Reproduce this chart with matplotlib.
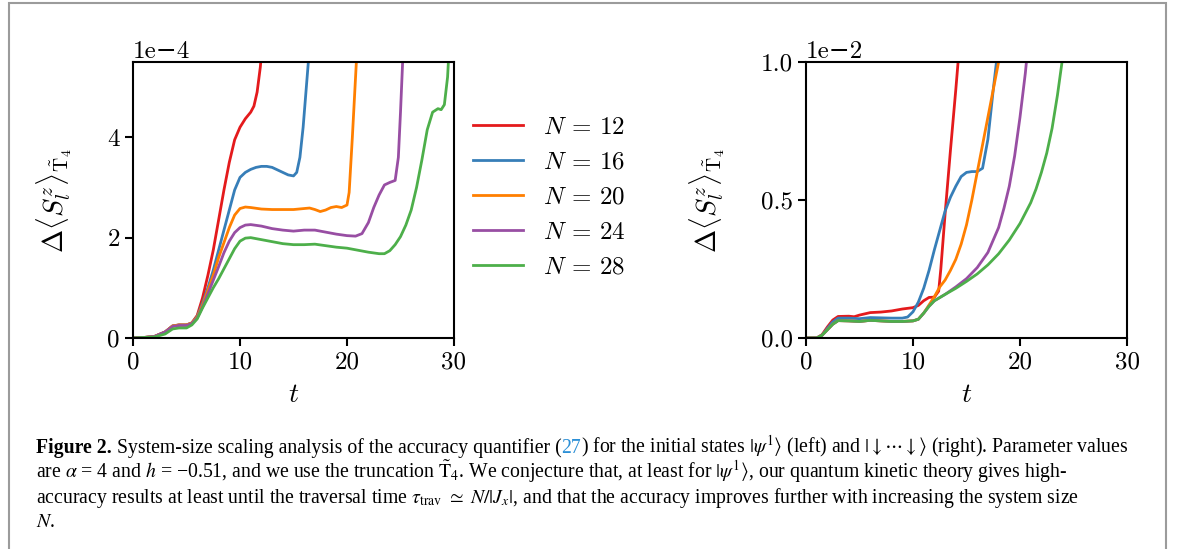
import numpy as np
import matplotlib
matplotlib.use("Agg")
import matplotlib.pyplot as plt
from matplotlib.patches import Rectangle
from matplotlib.text import Annotation

#DATA  (left panel in units of 1e-4, right panel in units of 1e-2)

labels = ["$N$ = 12", "$N$ = 16", "$N$ = 20", "$N$ = 24", "$N$ = 28"]
colors = ["#e41a1c", "#377eb8", "#ff7f00", "#984ea3", "#4daf4a"]

t_l12 = [0, 1, 2, 3, 3.7, 4.3, 5.0, 5.5, 6.0, 6.5, 7.0, 7.5, 8.0, 8.5, 9.0, 9.5, 10.0, 10.5, 11.0, 11.3, 11.6, 11.9,
         12.1, 12.3]
y_l12 = [0, 0.01, 0.03, 0.12, 0.24, 0.26, 0.26, 0.3, 0.45, 0.8, 1.25, 1.75, 2.35, 2.95, 3.5, 3.95, 4.2, 4.37, 4.5,
         4.62, 4.9, 5.4, 5.9, 6.5]

t_l16 = [0, 1, 2, 3, 3.7, 4.3, 5.0, 5.5, 6.0, 6.5, 7.0, 7.5, 8.0, 8.5, 9.0, 9.5, 10.0, 10.5, 11.0, 11.5, 12.0, 12.5,
         13.0, 13.5, 14.0, 14.5, 15.0, 15.3, 15.6, 15.9, 16.2, 16.5]
y_l16 = [0, 0.01, 0.03, 0.12, 0.24, 0.26, 0.26, 0.3, 0.43, 0.7, 1.0, 1.35, 1.75, 2.15, 2.55, 2.95, 3.2, 3.3, 3.36, 3.4,
         3.42, 3.42, 3.4, 3.35, 3.3, 3.25, 3.23, 3.3, 3.6, 4.2, 5.0, 5.8]

t_l20 = [0, 1, 2, 3, 3.7, 4.3, 5.0, 5.5, 6.0, 6.5, 7.0, 7.5, 8.0, 8.5, 9.0, 9.5, 10.0, 10.5, 11, 12, 13, 14, 15, 16,
         16.5, 17, 17.5, 18, 18.5, 19, 19.5, 20.0, 20.2, 20.5, 20.8, 21.0]
y_l20 = [0, 0.01, 0.03, 0.12, 0.24, 0.26, 0.26, 0.3, 0.42, 0.66, 0.95, 1.25, 1.6, 1.9, 2.2, 2.45, 2.58, 2.61, 2.6,
         2.57, 2.56, 2.56, 2.56, 2.58, 2.59, 2.56, 2.52, 2.55, 2.6, 2.62, 2.6, 2.65, 2.9, 4.0, 5.2, 6.0]

t_l24 = [0, 1, 2, 3, 3.7, 4.3, 5.0, 5.5, 6.0, 6.5, 7.0, 7.5, 8.0, 8.5, 9.0, 9.5, 10.0, 10.5, 11.0, 12, 13, 14, 15, 16,
         17, 18, 19, 20, 20.8, 21.4, 22, 22.5, 23, 23.5, 24, 24.5, 24.8, 25.0, 25.2, 25.4]
y_l24 = [0, 0.01, 0.03, 0.12, 0.23, 0.25, 0.25, 0.29, 0.4, 0.62, 0.88, 1.15, 1.42, 1.7, 1.93, 2.1, 2.2, 2.25, 2.26,
         2.23, 2.18, 2.15, 2.13, 2.15, 2.15, 2.11, 2.07, 2.04, 2.03, 2.08, 2.3, 2.6, 2.85, 3.05, 3.1, 3.14, 3.6, 4.5,
         5.5, 6.2]

t_l28 = [0, 1, 2, 3, 3.7, 4.3, 5.0, 5.5, 6.0, 6.5, 7.0, 7.5, 8.0, 8.5, 9.0, 9.5, 10.0, 10.5, 11.0, 12, 13, 14, 15, 16,
         17, 18, 19, 20, 21, 22, 23, 23.5, 24, 24.5, 25, 25.5, 26, 26.5, 27, 27.5, 28, 28.5, 28.8, 29.1, 29.4, 29.6]
y_l28 = [0, 0.01, 0.02, 0.08, 0.18, 0.2, 0.2, 0.26, 0.38, 0.6, 0.8, 1.0, 1.18, 1.38, 1.58, 1.78, 1.93, 1.99, 2.0,
         1.96, 1.92, 1.88, 1.86, 1.86, 1.87, 1.84, 1.81, 1.79, 1.75, 1.71, 1.68, 1.68, 1.74, 1.86, 2.02, 2.25, 2.55,
         3.0, 3.55, 4.15, 4.5, 4.57, 4.55, 4.65, 5.2, 6.0]

t_r12 = [0, 1, 1.5, 2, 2.5, 3, 4, 4.5, 5, 6, 7, 8, 9, 10, 10.5, 11, 11.5, 12, 12.4, 12.6, 13.0, 13.5, 14.0, 14.3]
y_r12 = [0, 0, 0.012, 0.04, 0.065, 0.078, 0.079, 0.077, 0.083, 0.092, 0.094, 0.098, 0.105, 0.11, 0.118, 0.135, 0.147,
         0.148, 0.17, 0.25, 0.45, 0.68, 0.9, 1.04]

t_r16 = [0, 1, 1.5, 2, 2.5, 3, 4, 5, 6, 7, 8, 9, 9.5, 10, 10.5, 11, 11.5, 12, 12.5, 13, 13.5, 14, 14.5, 15, 15.5, 16,
         16.5, 17, 17.5, 17.8, 18]
y_r16 = [0, 0, 0.01, 0.035, 0.058, 0.072, 0.072, 0.07, 0.074, 0.073, 0.072, 0.072, 0.076, 0.095, 0.13, 0.18, 0.245,
         0.32, 0.39, 0.46, 0.51, 0.55, 0.585, 0.6, 0.603, 0.603, 0.615, 0.72, 0.9, 1.0, 1.05]

t_r20 = [0, 1, 1.5, 2, 2.5, 3, 4, 5, 6, 7, 8, 9, 10, 10.5, 11, 11.5, 12, 12.5, 13, 13.5, 14, 14.5, 15, 15.5, 16, 16.5,
         17, 17.5, 18, 18.2]
y_r20 = [0, 0, 0.01, 0.03, 0.05, 0.063, 0.062, 0.06, 0.064, 0.062, 0.06, 0.06, 0.062, 0.068, 0.09, 0.12, 0.15, 0.185,
         0.21, 0.245, 0.285, 0.34, 0.41, 0.5, 0.6, 0.7, 0.8, 0.9, 1.0, 1.04]

t_r24 = [0, 1, 1.5, 2, 2.5, 3, 4, 5, 6, 7, 8, 9, 10, 10.5, 11, 11.5, 12, 13, 14, 15, 16, 17, 18, 18.5, 19, 19.5, 20,
         20.5, 20.7]
y_r24 = [0, 0, 0.01, 0.03, 0.05, 0.063, 0.062, 0.06, 0.064, 0.062, 0.06, 0.06, 0.062, 0.068, 0.09, 0.115, 0.135,
         0.158, 0.185, 0.215, 0.255, 0.31, 0.4, 0.47, 0.55, 0.66, 0.8, 0.96, 1.04]

t_r28 = [0, 1, 1.5, 2, 2.5, 3, 4, 5, 6, 7, 8, 9, 10, 10.5, 11, 11.5, 12, 13, 14, 15, 16, 17, 18, 19, 20, 21, 21.5, 22,
         22.5, 23, 23.5, 24]
y_r28 = [0, 0, 0.01, 0.03, 0.05, 0.063, 0.062, 0.06, 0.064, 0.062, 0.06, 0.06, 0.062, 0.068, 0.09, 0.115, 0.135,
         0.158, 0.18, 0.205, 0.232, 0.265, 0.305, 0.355, 0.415, 0.49, 0.54, 0.6, 0.67, 0.76, 0.88, 1.02]

left_t = [t_l12, t_l16, t_l20, t_l24, t_l28]
left_y = [y_l12, y_l16, y_l20, y_l24, y_l28]
right_t = [t_r12, t_r16, t_r20, t_r24, t_r28]
right_y = [y_r12, y_r16, y_r20, y_r24, y_r28]

#STYLE

plt.rcParams["font.family"] = "serif"
plt.rcParams["font.serif"] = ["cmr10"]
plt.rcParams["mathtext.fontset"] = "cm"
plt.rcParams["axes.linewidth"] = 1.5

W, H = 1182, 549
fig = plt.figure(figsize=(W / 100, H / 100), dpi=100)

ax1 = fig.add_axes([133 / W, 1 - 338 / H, 321 / W, 276 / H])
ax2 = fig.add_axes([806 / W, 1 - 338 / H, 321 / W, 276 / H])

ylab = r"$\Delta\langle S_l^z\rangle_{\tilde{\mathrm{T}}_4}$"

for ax, ts, ys, scale, ymax, yt in [(ax1, left_t, left_y, 1e-4, 5.5e-4, [0, 2e-4, 4e-4]),
                                    (ax2, right_t, right_y, 1e-2, 1e-2, [0, 0.5e-2, 1e-2])]:
    for t, y, c, lab in zip(ts, ys, colors, labels):
        ax.plot(t, np.array(y) * scale, color=c, lw=2, label=lab)
    ax.set_xlim(0, 30)
    ax.set_ylim(0, ymax)
    ax.set_xticks([0, 10, 20, 30])
    ax.set_yticks(yt)
    ax.ticklabel_format(axis="y", style="sci", scilimits=(0, 0))
    ax.tick_params(labelsize=18, length=6, width=1.5)
    ax.yaxis.get_offset_text().set_fontsize(18)
    ax.yaxis.get_offset_text().set_fontfamily(["cmr10", "DejaVu Serif"])
    ax.set_xlabel("$t$", fontsize=20, labelpad=6)
    ax.set_ylabel(ylab, fontsize=20, labelpad=24)

handles, labs = ax1.get_legend_handles_labels()
fig.legend(handles, labs, loc="center left", bbox_to_anchor=(463 / W, 1 - 197.5 / H),
           frameon=False, fontsize=18, borderaxespad=0, labelspacing=0.5)

# frame round the figure
fig.add_artist(Rectangle((9 / W, -0.05), (1166 - 9) / W, 1.05 - 3 / H, transform=fig.transFigure,
                         fill=False, edgecolor="#9b9b9b", lw=1.5))

#CAPTION

cap_font = dict(family="Liberation Serif", fontsize=14.2, math_fontfamily="stix")

def caption_line(pieces, x0, ytop):
    yb = H - ytop
    prev = fig.text(x0 / W, yb / H, pieces[0][0], va="baseline", ha="left", **cap_font, **pieces[0][1])
    for s, gap, kw in pieces[1:]:
        a = Annotation(s, xy=(1, yb), xycoords=(prev, "figure pixels"), xytext=(gap, 0),
                       textcoords="offset pixels", va="baseline", ha="left", **cap_font, **kw)
        fig.add_artist(a)
        prev = a

caption_line([("Figure 2.", dict(weight="bold")),
              ("System-size scaling analysis of the accuracy quantifier (", 5, {}),
              ("27", 0, dict(color="#2b8fd6")),
              (r") for the initial states $|\psi^{1}\rangle$ (left) and $|{\downarrow}\cdots{\downarrow}\rangle$ "
               r"(right). Parameter values", 0, {})], 36, 453)
caption_line([("are $\\alpha$ = 4 and $h$ = \u22120.51, and we use the truncation $\\tilde{\\mathrm{T}}_4$. We conjecture "
               "that, at least for $|\\psi^{1}\\rangle$, our quantum kinetic theory gives high-", {})], 36, 478)
caption_line([(r"accuracy results at least until the traversal time $\tau_{\mathrm{trav}}\ \simeq\ N/|J_x|$, and that the "
               r"accuracy improves further with increasing the system size", {})], 36, 503)
caption_line([(r"$N$.", {})], 36, 527)

fig.savefig("out.png", dpi=100)
